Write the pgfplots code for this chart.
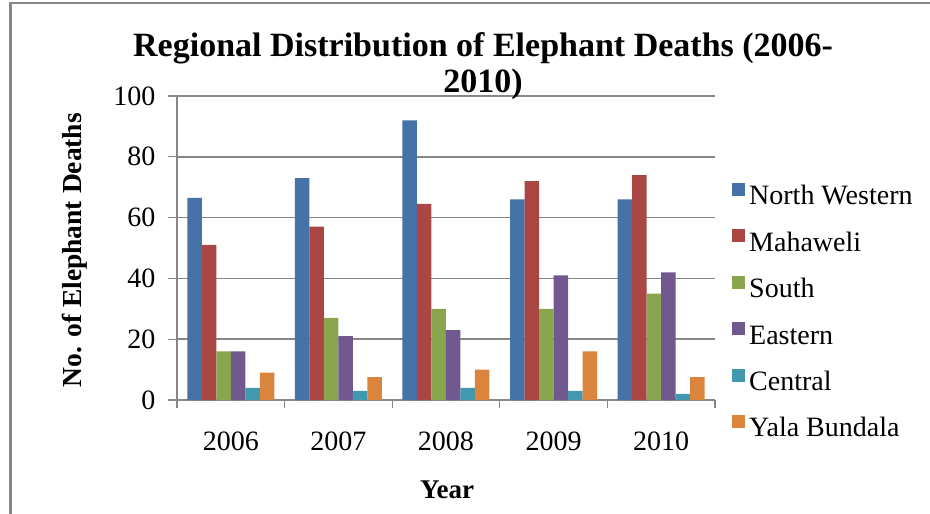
\documentclass[border=0pt]{standalone}
\usepackage{fontspec}
\setmainfont{Liberation Serif}
\usepackage{pgfplots}
\pgfplotsset{compat=1.18}
\definecolor{cNW}{HTML}{4572A7}
\definecolor{cMA}{HTML}{AA4643}
\definecolor{cSO}{HTML}{89A54E}
\definecolor{cEA}{HTML}{71588F}
\definecolor{cCE}{HTML}{4198AF}
\definecolor{cYA}{HTML}{DB843D}
\definecolor{gridgray}{RGB}{134,134,134}
\begin{document}
\begin{tikzpicture}[x=1pt,y=1pt]
\useasboundingbox (0,0) rectangle (930,-514);
\draw[color=gridgray, line width=2.5pt] (10.5,-514) -- (10.5,-3) -- (930,-3);
\begin{axis}[
  at={(177pt,-400pt)}, anchor=south west,
  width=538pt, height=304pt, scale only axis,
  ybar=0pt, bar width=14.5pt,
  xmin=-0.5, xmax=4.5, ymin=0, ymax=100,
  xtick={0,1,2,3,4}, xticklabels={2006,2007,2008,2009,2010},
  minor xtick={-0.5,0.5,1.5,2.5,3.5,4.5},
  ytick={0,20,40,60,80,100},
  major x tick style={draw=none},
  tick align=outside,
  major tick length=9pt, minor tick length=8pt,
  axis x line*=bottom, axis y line*=left,
  ymajorgrids, grid style={gridgray, line width=1.5pt},
  axis line style={gridgray, line width=1.5pt},
  tick style={gridgray, line width=1.2pt},
  /pgf/number format/assume math mode=true,
  ticklabel style={font=\fontsize{28}{31}\selectfont},
  xticklabel style={yshift=-19pt},
  yticklabel style={xshift=-9pt},
  title={Regional Distribution of Elephant Deaths (2006-\\2010)},
  title style={at={(0.569,1.20)}, anchor=north, align=center, font=\bfseries\fontsize{34}{36}\selectfont},
  ylabel={No. of Elephant Deaths},
  ylabel style={at={(-0.19,0.493)}, anchor=center, font=\bfseries\fontsize{27.5}{30}\selectfont},
  xlabel={Year},
  xlabel style={at={(0.502,-0.296)}, anchor=center, font=\bfseries\fontsize{27}{30}\selectfont},
  legend style={at={(1.0316,0.2865)}, anchor=west, draw=none, fill=none,
    font=\fontsize{28}{30}\selectfont, row sep=18.4pt, inner sep=0pt,
    nodes={inner sep=0pt, text height=20pt, text depth=6pt},
    /tikz/every odd column/.append style={column sep=4pt}},
  legend cell align=left,
  legend image code/.code={\fill[#1] (0pt,2pt) rectangle (13pt,15pt);},
]
\addplot[fill=cNW, draw=none] coordinates {(0,66.5) (1,73) (2,92) (3,66) (4,66)};
\addplot[fill=cMA, draw=none] coordinates {(0,51) (1,57) (2,64.5) (3,72) (4,74)};
\addplot[fill=cSO, draw=none] coordinates {(0,16) (1,27) (2,30) (3,30) (4,35)};
\addplot[fill=cEA, draw=none] coordinates {(0,16) (1,21) (2,23) (3,41) (4,42)};
\addplot[fill=cCE, draw=none] coordinates {(0,4) (1,3) (2,4) (3,3) (4,2)};
\addplot[fill=cYA, draw=none] coordinates {(0,9) (1,7.5) (2,10) (3,16) (4,7.5)};
\legend{North Western,Mahaweli,South,Eastern,Central,Yala Bundala}
\end{axis}
\end{tikzpicture}
\end{document}
